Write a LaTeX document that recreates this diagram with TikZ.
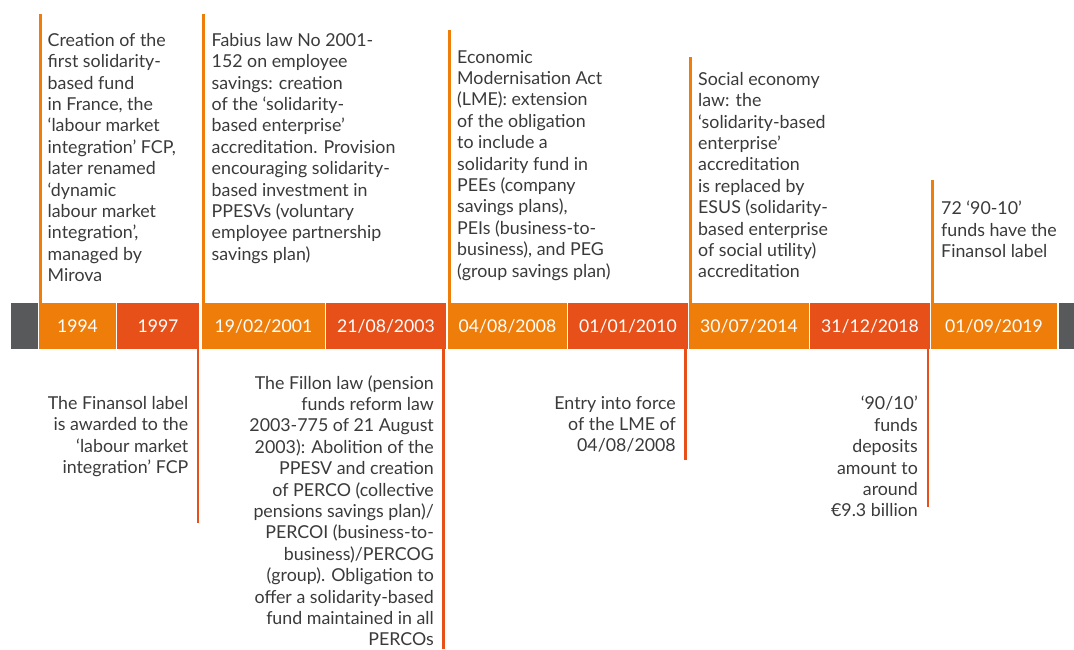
\documentclass[tikz,border=0pt]{standalone}
\usepackage{fontspec}
\setmainfont{Lato}
\usetikzlibrary{positioning}
\definecolor{eventorange}{HTML}{EF7D0A}
\definecolor{eventred}{HTML}{E8501A}
\definecolor{bargray}{HTML}{58595B}
\definecolor{textgray}{HTML}{3A3A3A}

\begin{document}
\begin{tikzpicture}[x=1pt, y=-1pt,
  seg/.style={minimum height=46pt, inner sep=0pt, outer sep=0pt, text=white, font=\fontsize{17.6}{20}\selectfont},
  toptext/.style={anchor=north west, align=left, inner sep=0pt, text=textgray, font=\fontsize{17.8}{21.4}\selectfont},
  bottext/.style={anchor=north east, align=right, inner sep=0pt, text=textgray, font=\fontsize{17.8}{21.4}\selectfont},
  upline/.style={draw=eventorange, line width=2.6pt},
  downline/.style={draw=eventred, line width=2.6pt}]
  \useasboundingbox (0,0) rectangle (1074,649);

  % the bar of dates
  \node[seg, fill=bargray, minimum width=27pt, anchor=west] (gleft) at (11,326) {};
  \node[seg, fill=eventorange, minimum width=77pt, right=1pt of gleft] (s1994) {1994};
  \node[seg, fill=eventred, minimum width=82pt, right=1pt of s1994] (s1997) {1997};
  \node[seg, fill=eventorange, minimum width=123pt, right=3pt of s1997] (s2001) {19/02/2001};
  \node[seg, fill=eventred, minimum width=120pt, right=1pt of s2001] (s2003) {21/08/2003};
  \node[seg, fill=eventorange, minimum width=119pt, right=2pt of s2003] (s2008) {04/08/2008};
  \node[seg, fill=eventred, minimum width=120pt, right=1pt of s2008] (s2010) {01/01/2010};
  \node[seg, fill=eventorange, minimum width=120pt, right=1pt of s2010] (s2014) {30/07/2014};
  \node[seg, fill=eventred, minimum width=120pt, right=1pt of s2014] (s2018) {31/12/2018};
  \node[seg, fill=eventorange, minimum width=126pt, right=1pt of s2018] (s2019) {01/09/2019};
  \node[seg, fill=bargray, minimum width=15pt, right=2pt of s2019] (gright) {};

  % ends of the event lines
  \coordinate (top1994) at (40.5,14);
  \coordinate (top2001) at (203.5,14);
  \coordinate (top2008) at (449.5,30);
  \coordinate (top2014) at (690.5,57);
  \coordinate (top2019) at (932.5,180);
  \coordinate (bot1997) at (198,523);
  \coordinate (bot2003) at (443.5,649);
  \coordinate (bot2010) at (685.5,460);
  \coordinate (bot2018) at (928,507);

  \draw[upline] (top1994) -- (top1994 |- s1994.north);
  \draw[upline] (top2001) -- (top2001 |- s2001.north);
  \draw[upline] (top2008) -- (top2008 |- s2008.north);
  \draw[upline] (top2014) -- (top2014 |- s2014.north);
  \draw[upline] (top2019) -- (top2019 |- s2019.north);
  \draw[downline] (bot1997 |- s1997.south) -- (bot1997);
  \draw[downline] (bot2003 |- s2003.south) -- (bot2003);
  \draw[downline] (bot2010 |- s2010.south) -- (bot2010);
  \draw[downline] (bot2018 |- s2018.south) -- (bot2018);

  % events above the bar
  \node[toptext] (t1994) at (47.5,33) {Creation of the\\first solidarity-\\based fund\\in France, the\\‘labour market\\integration’ FCP,\\later renamed\\‘dynamic\\labour market\\integration’,\\managed by\\Mirova};
  \node[toptext] (t2001) at (211.5,33) {Fabius law No 2001-\\152 on employee\\savings: creation\\of the ‘solidarity-\\based enterprise’\\accreditation. Provision\\encouraging solidarity-\\based investment in\\PPESVs (voluntary\\employee partnership\\savings plan)};
  \node[toptext] (t2008) at (457,50) {Economic\\Modernisation Act\\(LME): extension\\of the obligation\\to include a\\solidarity fund in\\PEEs (company\\savings plans),\\PEIs (business-to-\\business), and PEG\\(group savings plan)};
  \node[toptext] (t2014) at (698,72) {Social economy\\law: the\\‘solidarity-based\\enterprise’\\accreditation\\is replaced by\\ESUS (solidarity-\\based enterprise\\of social utility)\\accreditation};
  \node[toptext] (t2019) at (941,201) {72 ‘90-10’\\funds have the\\Finansol label};

  % events below the bar
  \node[bottext] (t1997) at (188.5,396) {The Finansol label\\is awarded to the\\‘labour market\\integration’ FCP};
  \node[bottext] (t2003) at (434,375) {The Fillon law (pension\\funds reform law\\2003-775 of 21 August\\2003): Abolition of the\\PPESV and creation\\of PERCO (collective\\pensions savings plan)/\\PERCOI (business-to-\\business)/PERCOG\\(group). Obligation to\\offer a solidarity-based\\fund maintained in all\\PERCOs};
  \node[bottext] (t2010) at (676,396) {Entry into force\\of the LME of\\04/08/2008};
  \node[bottext] (t2018) at (918,396) {‘90/10’\\funds\\deposits\\amount to\\around\\€9.3 billion};
\end{tikzpicture}
\end{document}
